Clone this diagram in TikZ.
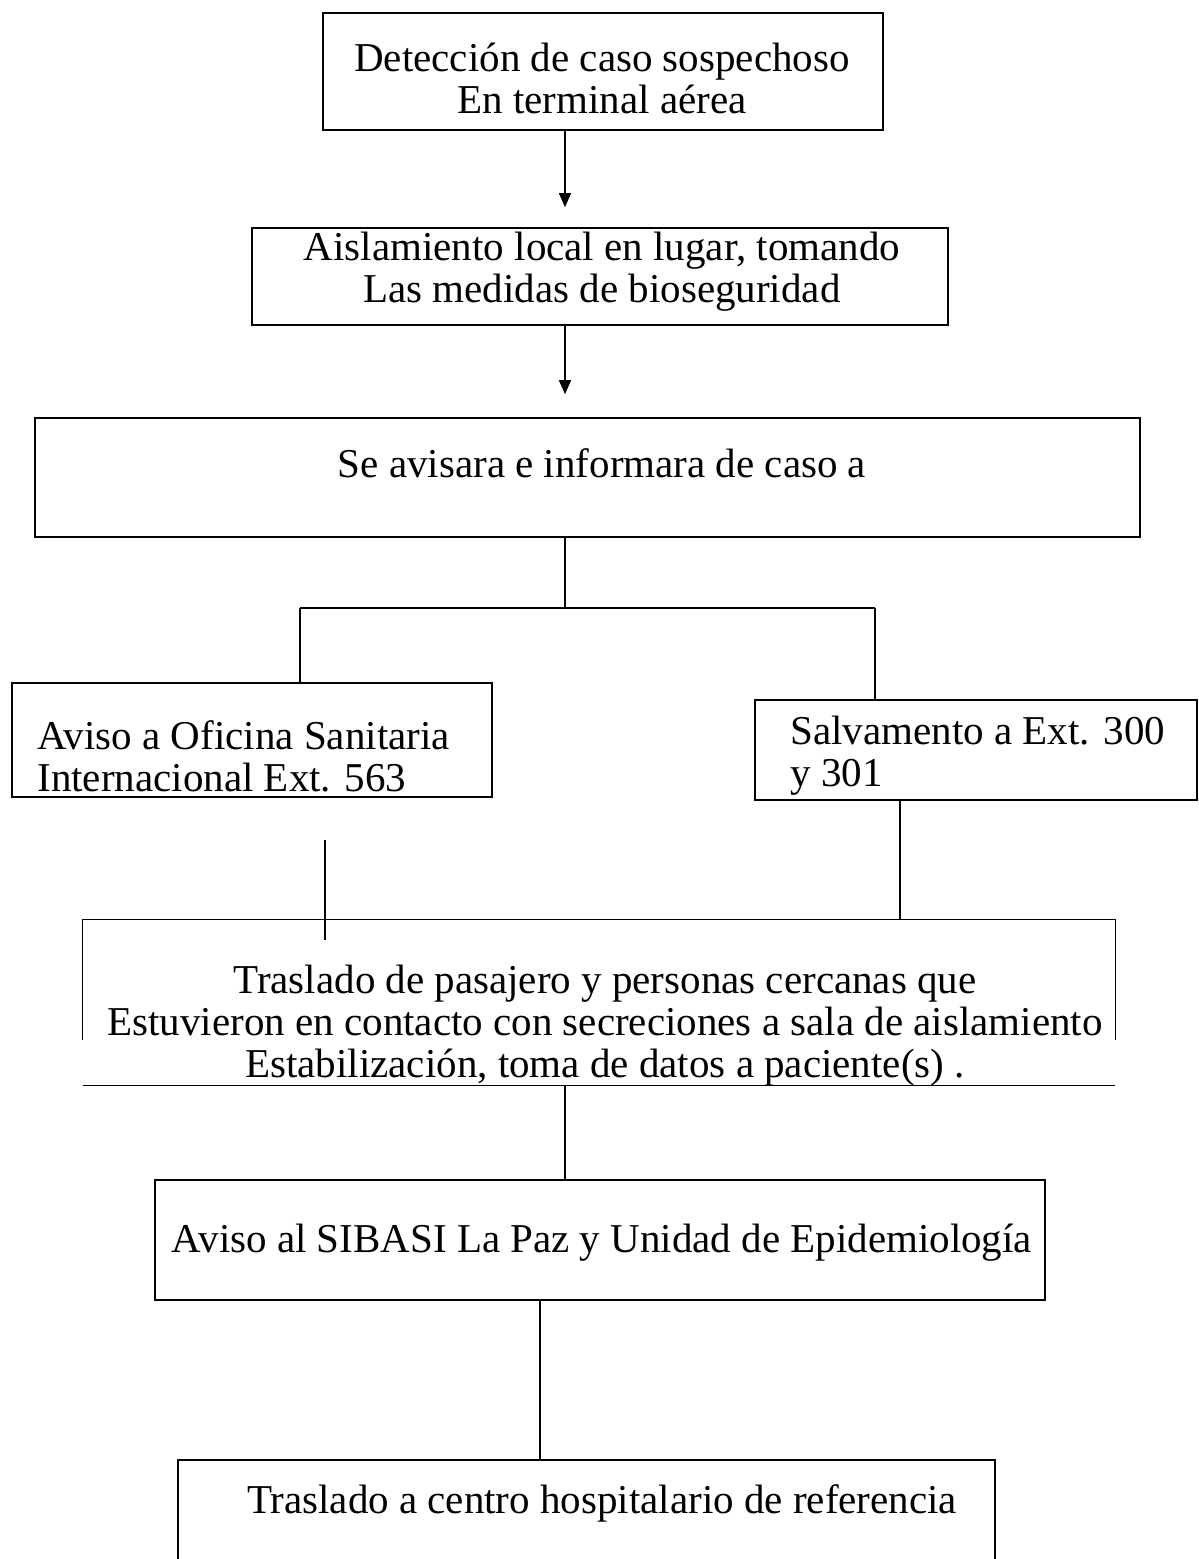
\documentclass[tikz,border=0pt]{standalone}
\usepackage{fontspec}
\setmainfont{Liberation Serif}
\usetikzlibrary{arrows.meta}
\usetikzlibrary{positioning}

\tikzset{
    box/.style={draw,line width=0.8pt,inner sep=0pt},
    openbox/.style={inner sep=0pt},
    txt/.style={align=center,inner sep=0pt,font=\fontsize{20.5}{21}\selectfont},
    txtl/.style={align=left,anchor=west,inner sep=0pt,font=\fontsize{20.5}{21}\selectfont},
    arr/.style={line width=0.6pt,-{Triangle[length=7pt,width=6pt]}},
    lnk/.style={line width=0.6pt}
}

\begin{document}
\begin{tikzpicture}[x=0.5pt,y=-0.5pt]
    	\useasboundingbox (0,0) rectangle (1199,1559);

    	% boxes
    	\node[box,minimum width=280pt,minimum height=58.5pt] (deteccion) at (603,71.5) {};
    	\node[box,minimum width=348pt,minimum height=48.5pt] (aislamiento) at (600,276.5) {};
    	\node[box,minimum width=552.5pt,minimum height=59.5pt] (avisar) at (587.5,477.5) {};
    	\node[box,minimum width=240pt,minimum height=57pt] (oficina) at (252,740) {};
    	\node[box,minimum width=221pt,minimum height=50pt] (salvamento) at (976,750) {};
    	\node[openbox,minimum width=516pt,minimum height=82.5pt] (traslado) at (599,1002.5) {};
    	\node[box,minimum width=445pt,minimum height=60pt] (sibasi) at (600,1240) {};
    	\node[box,minimum width=408.5pt,minimum height=60pt] (hospital) at (586.5,1520) {};

    	% sides of the big box stop above its bottom line
    	\draw[line width=0.8pt] (traslado.south west) ++(0,-45) |- (traslado.north east) -- ++(0,120);
    	\draw[line width=0.8pt] (traslado.south west) -- (traslado.south east);

    	% texts
    	\node[txt] (t-deteccion) at (602,78) {Detección de caso sospechoso\\En terminal aérea};
    	\node[txt] (t-aislamiento) at (602,272) {Aislamiento local en lugar, tomando\\Las medidas de bioseguridad};
    	\node[txt] (t-avisar) at (602,463) {Se avisara e informara de caso a};
    	\node[txtl] (t-oficina) at (37,756) {Aviso a Oficina Sanitaria\\Internacional Ext. 563};
    	\node[txtl] (t-salvamento) at (790,756) {Salvamento a Ext. 300\\y 301};
    	\node[txt] (t-traslado) at (605,1026) {Traslado de pasajero y personas cercanas que\\Estuvieron en contacto con secreciones a sala de aislamiento\\Estabilización, toma de datos a paciente(s) .};
    	\node[txt] (t-sibasi) at (602,1243) {Aviso al SIBASI La Paz y Unidad de Epidemiología};
    	\node[txt] (t-hospital) at (602,1503) {Traslado a centro hospitalario de referencia};

    	% connectors
    	\coordinate (eje) at (565,0);
    	\coordinate (eje2) at (540,0);
    	\coordinate (split) at (565,608);
    	\coordinate (splitL) at (300,608);
    	\coordinate (splitR) at (875,608);
    	\coordinate (bajaL) at (325,840);
    	\coordinate (bajaLfin) at (325,940);
    	\coordinate (bajaR) at (900,0);

    	\draw[arr,shorten >=10pt] (deteccion.south -| eje) -- (aislamiento.north -| eje);
    	\draw[arr,shorten >=11.5pt] (aislamiento.south -| eje) -- (avisar.north -| eje);
    	\draw[lnk] (avisar.south -| eje) -- (split);
    	\draw[lnk] (splitL) -- (splitR);
    	\draw[lnk] (splitL) -- (oficina.north -| splitL);
    	\draw[lnk] (splitR) -- (salvamento.north -| splitR);
    	\draw[lnk] (bajaL) -- (bajaLfin);
    	\draw[lnk] (salvamento.south -| bajaR) -- (traslado.north -| bajaR);
    	\draw[lnk] (traslado.south -| eje) -- (sibasi.north -| eje);
    	\draw[lnk] (sibasi.south -| eje2) -- (hospital.north -| eje2);

\end{tikzpicture}
\end{document}
